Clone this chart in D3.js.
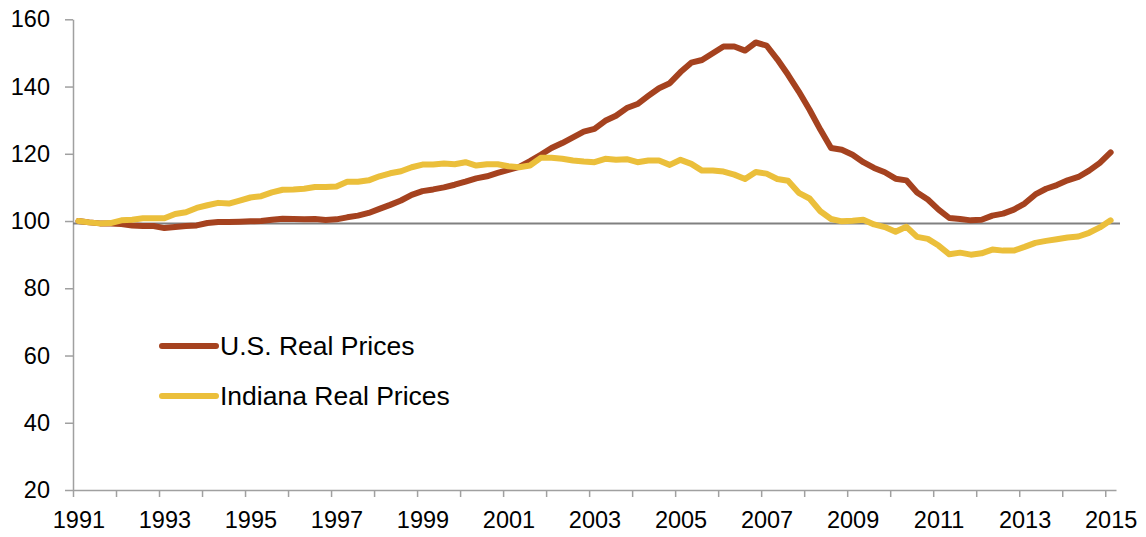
<!DOCTYPE html>
<html>
<head>
<meta charset="utf-8">
<script src="https://cdn.jsdelivr.net/npm/d3@7"></script>
<style>
  body { margin: 0; background: #fff; }
  text { font-family: "Liberation Sans", Arial, sans-serif; fill: #000; }
  .axis path, .axis line { stroke: #a0a0a0; stroke-width: 1.5; }
</style>
</head>
<body>
<div id="chart"></div>
<script>
// quarterly series, 1991 Q1 .. 2015 Q1
const startYear = 1991;
const usReal = [
  100.0, 99.6, 99.3, 99.3, 99.1, 98.7, 98.5, 98.5, 97.9, 98.2,
  98.5, 98.7, 99.4, 99.7, 99.7, 99.8, 99.9, 100.0, 100.4, 100.7,
  100.6, 100.5, 100.6, 100.3, 100.5, 101.1, 101.6, 102.4, 103.6, 104.8,
  106.1, 107.8, 108.9, 109.4, 110.0, 110.8, 111.7, 112.7, 113.3, 114.3,
  115.2, 116.1, 117.8, 119.7, 121.7, 123.2, 124.9, 126.6, 127.4, 129.8,
  131.3, 133.6, 134.8, 137.2, 139.5, 141.0, 144.3, 147.1, 147.9, 149.9,
  151.9, 151.9, 150.7, 153.1, 152.2, 148.1, 143.5, 138.5, 133.1, 127.2,
  121.7, 121.2, 119.7, 117.5, 115.8, 114.5, 112.6, 112.1, 108.5, 106.4,
  103.4, 100.9, 100.6, 100.2, 100.4, 101.6, 102.2, 103.4, 105.2, 107.9,
  109.6, 110.7, 112.1, 113.1, 115.0, 117.3, 120.4
];
const indianaReal = [
  100.0, 99.6, 99.3, 99.4, 100.2, 100.4, 100.8, 100.8, 100.8, 102.1,
  102.6, 103.9, 104.7, 105.4, 105.2, 106.1, 107.0, 107.4, 108.5, 109.3,
  109.4, 109.6, 110.1, 110.1, 110.3, 111.7, 111.7, 112.1, 113.3, 114.2,
  114.8, 116.0, 116.8, 116.8, 117.1, 116.9, 117.5, 116.5, 116.9, 116.9,
  116.3, 116.0, 116.5, 118.8, 118.8, 118.5, 118.0, 117.7, 117.5, 118.5,
  118.2, 118.4, 117.5, 118.0, 118.0, 116.7, 118.2, 117.0, 115.0, 115.0,
  114.7, 113.8, 112.5, 114.6, 114.1, 112.5, 112.0, 108.4, 106.7, 102.9,
  100.6, 99.9, 100.1, 100.4, 99.0, 98.2, 96.8, 98.3, 95.3, 94.7,
  92.7, 90.1, 90.6, 90.0, 90.4, 91.5, 91.2, 91.2, 92.3, 93.5,
  94.1, 94.6, 95.1, 95.4, 96.5, 98.1, 100.2
];
const baselineValue = 99.3;
const yTicks = [20, 40, 60, 80, 100, 120, 140, 160];
const yearTicks = d3.range(1991, 2016);
const yearLabels = [1991, 1993, 1995, 1997, 1999, 2001, 2003, 2005, 2007, 2009, 2011, 2013, 2015];
const seriesNames = ["U.S. Real Prices", "Indiana Real Prices"];
const seriesColors = ["#a5421f", "#ebbf3b"];

const margin = { top: 19.3, right: 30, bottom: 47, left: 73 };
const width = 1146 - margin.left - margin.right;
const height = 537 - margin.top - margin.bottom;

const svg = d3.select("#chart")
    .append("svg")
    .attr("width", 1146)
    .attr("height", 537)
    .append("g")
    .attr("transform", `translate(${margin.left}, ${margin.top})`);

const x = d3.scaleLinear().domain([startYear, 2015.25]).range([0, 1043]);
const y = d3.scaleLinear().domain([20, 160]).range([height, 0]);

// quarter i sits in the middle of its category slot
const qx = i => x(startYear + i / 4 + 0.125);
const half = x(startYear + 0.125) - x(startYear);

const yAxis = svg.append("g")
    .attr("class", "axis")
    .call(d3.axisLeft(y).tickValues(yTicks).tickSize(8).tickSizeOuter(0).tickPadding(15));
yAxis.selectAll("text").style("font-size", "23.5px");

const xAxis = svg.append("g")
    .attr("class", "axis")
    .attr("transform", `translate(0, ${height})`)
    .call(d3.axisBottom(x)
        .tickValues(yearTicks)
        .tickSize(7)
        .tickSizeOuter(0)
        .tickPadding(14)
        .tickFormat(d => yearLabels.includes(d) ? String(d) : ""));
xAxis.selectAll("text")
    .attr("dx", half)
    .style("font-size", "23.5px");

// reference line
svg.append("line")
    .attr("x1", 0)
    .attr("x2", 1047)
    .attr("y1", y(baselineValue))
    .attr("y2", y(baselineValue))
    .attr("stroke", "#808080")
    .attr("stroke-width", 2);

const line = d3.line()
    .x((d, i) => qx(i))
    .y(d => y(d));

[usReal, indianaReal].forEach((s, k) => {
    svg.append("path")
        .datum(s)
        .attr("fill", "none")
        .attr("stroke", seriesColors[k])
        .attr("stroke-width", 6)
        .attr("stroke-linejoin", "round")
        .attr("stroke-linecap", "round")
        .attr("d", line);
});

// legend
const legend = svg.append("g")
    .attr("transform", `translate(${162 - margin.left}, ${346 - margin.top})`);

seriesNames.forEach((name, k) => {
    const row = legend.append("g").attr("transform", `translate(0, ${k * 50})`);
    row.append("line")
        .attr("x1", 0).attr("x2", 54)
        .attr("stroke", seriesColors[k])
        .attr("stroke-width", 6)
        .attr("stroke-linecap", "round");
    row.append("text")
        .attr("x", 58)
        .attr("y", 9)
        .style("font-size", "26.5px")
        .text(name);
});
</script>
</body>
</html>
